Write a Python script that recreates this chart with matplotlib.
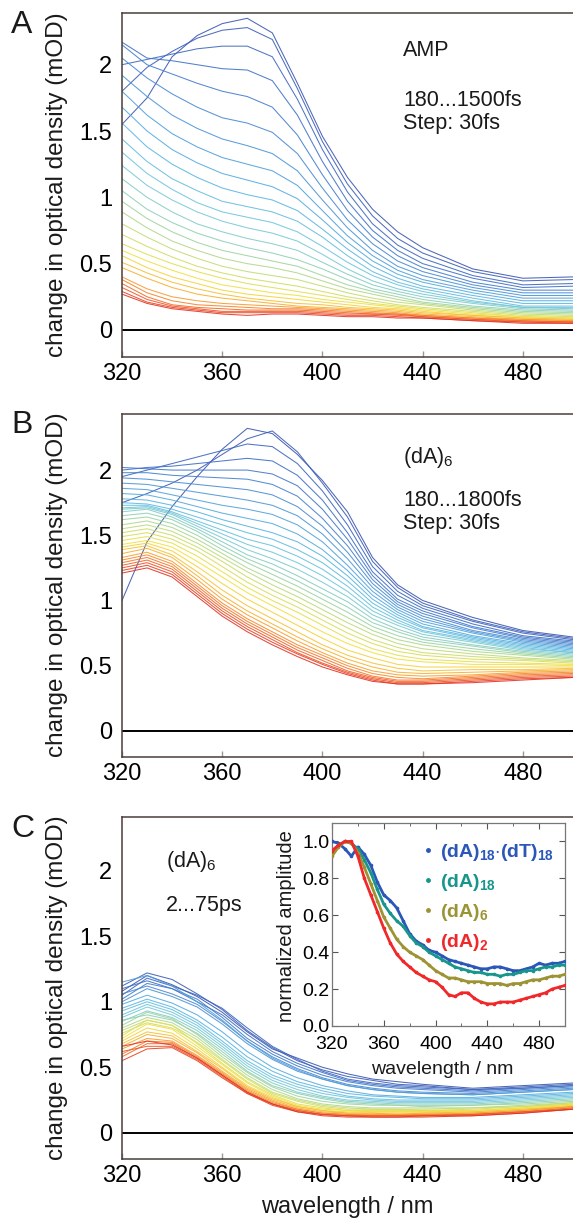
import numpy as np
import matplotlib
matplotlib.use("Agg")
import matplotlib.pyplot as plt
from matplotlib.colors import LinearSegmentedColormap
from matplotlib.lines import Line2D
from matplotlib.ticker import MultipleLocator, FixedLocator

plt.rcParams['font.family'] = ['Liberation Sans', 'DejaVu Sans']
plt.rcParams['mathtext.fontset'] = 'custom'
plt.rcParams['mathtext.rm'] = 'Liberation Sans'
plt.rcParams['mathtext.it'] = 'Liberation Sans:italic'
plt.rcParams['mathtext.bf'] = 'Liberation Sans:bold'

# ---------------- data ----------------
wl = [320, 330, 340, 350, 360, 370, 380, 390, 400, 410, 420, 430, 440, 460, 480, 500]

# Panel A: AMP, 180...1500 fs (early -> late)
amp_curves = [
    [1.55, 1.75, 2.06, 2.22, 2.31, 2.35, 2.24, 1.86, 1.46, 1.15, 0.91, 0.74, 0.62, 0.46, 0.39, 0.40],
    [1.80, 1.98, 2.10, 2.20, 2.26, 2.28, 2.19, 1.82, 1.42, 1.10, 0.86, 0.69, 0.58, 0.44, 0.37, 0.38],
    [2.00, 2.04, 2.08, 2.12, 2.14, 2.14, 2.06, 1.74, 1.36, 1.04, 0.80, 0.64, 0.54, 0.41, 0.34, 0.35],
    [2.17, 2.05, 2.03, 2.00, 1.97, 1.96, 1.88, 1.62, 1.27, 0.97, 0.75, 0.60, 0.50, 0.39, 0.32, 0.33],
    [2.15, 2.00, 1.93, 1.86, 1.80, 1.76, 1.68, 1.47, 1.17, 0.90, 0.70, 0.56, 0.47, 0.36, 0.30, 0.30],
    [2.05, 1.90, 1.78, 1.68, 1.60, 1.56, 1.49, 1.33, 1.07, 0.83, 0.65, 0.52, 0.44, 0.34, 0.28, 0.28],
    [1.92, 1.76, 1.62, 1.52, 1.44, 1.39, 1.33, 1.20, 0.98, 0.77, 0.60, 0.48, 0.41, 0.32, 0.26, 0.26],
    [1.80, 1.62, 1.48, 1.38, 1.30, 1.25, 1.20, 1.09, 0.90, 0.71, 0.56, 0.45, 0.38, 0.30, 0.24, 0.24],
    [1.68, 1.50, 1.36, 1.26, 1.18, 1.13, 1.08, 0.99, 0.83, 0.66, 0.52, 0.42, 0.36, 0.28, 0.22, 0.22],
    [1.56, 1.38, 1.25, 1.15, 1.07, 1.02, 0.98, 0.90, 0.76, 0.61, 0.48, 0.39, 0.33, 0.26, 0.20, 0.20],
    [1.44, 1.27, 1.14, 1.05, 0.97, 0.93, 0.89, 0.82, 0.70, 0.56, 0.44, 0.36, 0.31, 0.24, 0.18, 0.18],
    [1.34, 1.18, 1.06, 0.96, 0.89, 0.85, 0.81, 0.74, 0.63, 0.51, 0.41, 0.34, 0.29, 0.22, 0.17, 0.17],
    [1.24, 1.09, 0.98, 0.89, 0.82, 0.77, 0.73, 0.67, 0.57, 0.46, 0.37, 0.31, 0.27, 0.21, 0.17, 0.16],
    [1.14, 1.00, 0.89, 0.80, 0.74, 0.69, 0.65, 0.60, 0.51, 0.42, 0.34, 0.29, 0.25, 0.20, 0.16, 0.15],
    [1.05, 0.91, 0.81, 0.73, 0.67, 0.62, 0.58, 0.53, 0.46, 0.38, 0.31, 0.27, 0.23, 0.18, 0.15, 0.14],
    [0.97, 0.84, 0.74, 0.66, 0.60, 0.56, 0.52, 0.48, 0.41, 0.34, 0.29, 0.25, 0.21, 0.17, 0.14, 0.13],
    [0.89, 0.77, 0.67, 0.60, 0.54, 0.50, 0.47, 0.43, 0.37, 0.31, 0.27, 0.23, 0.20, 0.16, 0.13, 0.12],
    [0.80, 0.70, 0.61, 0.54, 0.48, 0.44, 0.41, 0.38, 0.33, 0.28, 0.24, 0.21, 0.19, 0.15, 0.12, 0.11],
    [0.72, 0.63, 0.55, 0.48, 0.43, 0.39, 0.36, 0.33, 0.29, 0.25, 0.22, 0.19, 0.17, 0.14, 0.11, 0.10],
    [0.65, 0.57, 0.50, 0.44, 0.39, 0.35, 0.32, 0.29, 0.26, 0.23, 0.20, 0.18, 0.16, 0.13, 0.10, 0.09],
    [0.60, 0.52, 0.45, 0.39, 0.34, 0.31, 0.28, 0.26, 0.23, 0.21, 0.19, 0.17, 0.15, 0.12, 0.10, 0.09],
    [0.56, 0.47, 0.40, 0.35, 0.30, 0.27, 0.25, 0.23, 0.21, 0.19, 0.17, 0.16, 0.14, 0.11, 0.09, 0.08],
    [0.51, 0.43, 0.36, 0.31, 0.27, 0.24, 0.22, 0.20, 0.19, 0.17, 0.16, 0.15, 0.13, 0.11, 0.09, 0.08],
    [0.47, 0.39, 0.32, 0.27, 0.24, 0.22, 0.20, 0.18, 0.17, 0.16, 0.15, 0.14, 0.12, 0.10, 0.08, 0.07],
    [0.40, 0.31, 0.25, 0.22, 0.20, 0.19, 0.18, 0.17, 0.16, 0.15, 0.14, 0.13, 0.11, 0.09, 0.08, 0.07],
    [0.38, 0.28, 0.22, 0.19, 0.18, 0.17, 0.16, 0.16, 0.15, 0.14, 0.13, 0.12, 0.11, 0.09, 0.07, 0.06],
    [0.35, 0.25, 0.19, 0.17, 0.16, 0.15, 0.15, 0.15, 0.14, 0.13, 0.12, 0.12, 0.10, 0.08, 0.07, 0.06],
    [0.32, 0.23, 0.18, 0.16, 0.14, 0.14, 0.14, 0.14, 0.13, 0.12, 0.12, 0.11, 0.10, 0.08, 0.06, 0.06],
    [0.29, 0.21, 0.17, 0.15, 0.13, 0.13, 0.13, 0.13, 0.12, 0.11, 0.11, 0.10, 0.09, 0.07, 0.06, 0.05],
    [0.27, 0.20, 0.16, 0.14, 0.12, 0.11, 0.12, 0.12, 0.11, 0.10, 0.10, 0.09, 0.09, 0.07, 0.05, 0.05],
]

# Panel B: (dA)6, 180...1800 fs
da6_fs_curves = [
    [1.00, 1.45, 1.72, 1.95, 2.16, 2.32, 2.28, 2.12, 1.92, 1.68, 1.33, 1.12, 1.00, 0.87, 0.77, 0.72],
    [1.75, 1.82, 1.90, 2.00, 2.12, 2.24, 2.30, 2.14, 1.90, 1.64, 1.30, 1.10, 0.98, 0.85, 0.76, 0.71],
    [1.95, 2.00, 2.05, 2.10, 2.15, 2.20, 2.18, 2.05, 1.84, 1.58, 1.26, 1.07, 0.96, 0.84, 0.75, 0.70],
    [2.00, 2.02, 2.03, 2.05, 2.07, 2.09, 2.07, 1.96, 1.77, 1.52, 1.22, 1.04, 0.94, 0.82, 0.73, 0.69],
    [2.02, 2.01, 2.00, 2.00, 2.00, 2.00, 1.97, 1.88, 1.70, 1.47, 1.19, 1.01, 0.92, 0.80, 0.72, 0.68],
    [1.98, 1.98, 1.96, 1.95, 1.94, 1.93, 1.89, 1.80, 1.63, 1.42, 1.16, 0.99, 0.90, 0.79, 0.71, 0.67],
    [1.94, 1.93, 1.91, 1.89, 1.87, 1.85, 1.81, 1.72, 1.57, 1.37, 1.13, 0.97, 0.88, 0.77, 0.70, 0.66],
    [1.90, 1.89, 1.86, 1.83, 1.80, 1.77, 1.73, 1.65, 1.51, 1.32, 1.10, 0.95, 0.86, 0.76, 0.69, 0.65],
    [1.86, 1.85, 1.81, 1.77, 1.73, 1.70, 1.66, 1.58, 1.45, 1.27, 1.07, 0.93, 0.84, 0.75, 0.68, 0.64],
    [1.82, 1.81, 1.77, 1.72, 1.67, 1.63, 1.59, 1.51, 1.39, 1.23, 1.04, 0.91, 0.82, 0.73, 0.67, 0.63],
    [1.78, 1.77, 1.73, 1.68, 1.62, 1.57, 1.52, 1.45, 1.34, 1.19, 1.01, 0.89, 0.80, 0.72, 0.66, 0.62],
    [1.75, 1.74, 1.70, 1.64, 1.58, 1.52, 1.47, 1.39, 1.29, 1.15, 0.98, 0.87, 0.79, 0.71, 0.65, 0.61],
    [1.73, 1.73, 1.68, 1.61, 1.54, 1.47, 1.42, 1.34, 1.24, 1.11, 0.95, 0.85, 0.77, 0.70, 0.64, 0.60],
    [1.71, 1.72, 1.67, 1.59, 1.51, 1.43, 1.37, 1.29, 1.19, 1.07, 0.92, 0.83, 0.76, 0.69, 0.63, 0.60],
    [1.70, 1.71, 1.66, 1.57, 1.48, 1.39, 1.32, 1.24, 1.14, 1.03, 0.89, 0.81, 0.74, 0.68, 0.62, 0.59],
    [1.68, 1.70, 1.64, 1.55, 1.45, 1.35, 1.28, 1.19, 1.09, 0.99, 0.86, 0.78, 0.72, 0.66, 0.61, 0.58],
    [1.65, 1.67, 1.62, 1.53, 1.42, 1.32, 1.24, 1.15, 1.05, 0.95, 0.83, 0.76, 0.70, 0.65, 0.60, 0.57],
    [1.62, 1.64, 1.59, 1.50, 1.39, 1.29, 1.20, 1.11, 1.01, 0.91, 0.80, 0.73, 0.68, 0.63, 0.59, 0.56],
    [1.58, 1.61, 1.56, 1.47, 1.36, 1.25, 1.16, 1.07, 0.97, 0.87, 0.77, 0.70, 0.66, 0.61, 0.58, 0.55],
    [1.55, 1.58, 1.53, 1.44, 1.33, 1.22, 1.12, 1.03, 0.93, 0.83, 0.74, 0.67, 0.63, 0.59, 0.56, 0.54],
    [1.52, 1.55, 1.50, 1.41, 1.30, 1.18, 1.08, 0.99, 0.89, 0.79, 0.70, 0.64, 0.60, 0.57, 0.55, 0.53],
    [1.49, 1.52, 1.47, 1.38, 1.26, 1.14, 1.04, 0.95, 0.85, 0.75, 0.67, 0.61, 0.58, 0.55, 0.54, 0.52],
    [1.46, 1.49, 1.44, 1.34, 1.22, 1.10, 1.00, 0.91, 0.81, 0.71, 0.63, 0.58, 0.55, 0.53, 0.52, 0.51],
    [1.43, 1.46, 1.41, 1.30, 1.18, 1.06, 0.96, 0.86, 0.76, 0.67, 0.60, 0.55, 0.53, 0.51, 0.51, 0.50],
    [1.41, 1.44, 1.38, 1.26, 1.13, 1.01, 0.91, 0.81, 0.71, 0.62, 0.56, 0.51, 0.49, 0.49, 0.49, 0.49],
    [1.39, 1.42, 1.35, 1.22, 1.08, 0.96, 0.86, 0.76, 0.66, 0.58, 0.52, 0.48, 0.46, 0.47, 0.47, 0.48],
    [1.36, 1.40, 1.33, 1.19, 1.04, 0.92, 0.82, 0.72, 0.63, 0.55, 0.49, 0.45, 0.44, 0.45, 0.46, 0.47],
    [1.33, 1.37, 1.30, 1.16, 1.01, 0.89, 0.79, 0.69, 0.60, 0.52, 0.46, 0.43, 0.42, 0.43, 0.45, 0.46],
    [1.31, 1.35, 1.28, 1.13, 0.98, 0.86, 0.76, 0.66, 0.58, 0.50, 0.44, 0.41, 0.40, 0.42, 0.44, 0.45],
    [1.29, 1.33, 1.26, 1.11, 0.96, 0.84, 0.74, 0.64, 0.56, 0.48, 0.42, 0.39, 0.39, 0.41, 0.43, 0.44],
    [1.27, 1.31, 1.24, 1.09, 0.94, 0.82, 0.72, 0.62, 0.54, 0.46, 0.41, 0.38, 0.38, 0.40, 0.42, 0.43],
    [1.25, 1.29, 1.22, 1.07, 0.92, 0.80, 0.70, 0.60, 0.52, 0.45, 0.40, 0.37, 0.37, 0.39, 0.41, 0.42],
    [1.23, 1.27, 1.20, 1.05, 0.90, 0.78, 0.68, 0.59, 0.51, 0.44, 0.39, 0.36, 0.36, 0.38, 0.40, 0.41],
    [1.21, 1.25, 1.18, 1.03, 0.88, 0.76, 0.66, 0.57, 0.49, 0.43, 0.38, 0.36, 0.36, 0.37, 0.39, 0.41],
]

# Panel C: (dA)6, 2...75 ps
da6_ps_curves = [
    [1.08, 1.20, 1.13, 1.04, 0.92, 0.77, 0.64, 0.57, 0.50, 0.45, 0.41, 0.39, 0.37, 0.34, 0.36, 0.38],
    [1.12, 1.22, 1.17, 1.06, 0.94, 0.78, 0.65, 0.55, 0.48, 0.43, 0.40, 0.37, 0.36, 0.33, 0.35, 0.37],
    [1.05, 1.18, 1.12, 1.05, 0.95, 0.80, 0.66, 0.56, 0.47, 0.41, 0.38, 0.36, 0.35, 0.33, 0.34, 0.36],
    [1.10, 1.16, 1.10, 1.00, 0.90, 0.75, 0.62, 0.53, 0.46, 0.40, 0.37, 0.35, 0.34, 0.32, 0.34, 0.36],
    [1.02, 1.14, 1.10, 1.02, 0.88, 0.72, 0.60, 0.51, 0.44, 0.39, 0.36, 0.34, 0.33, 0.31, 0.33, 0.35],
    [1.06, 1.12, 1.06, 0.98, 0.85, 0.70, 0.58, 0.49, 0.42, 0.37, 0.34, 0.32, 0.31, 0.30, 0.32, 0.34],
    [1.00, 1.10, 1.04, 0.96, 0.83, 0.68, 0.56, 0.47, 0.41, 0.36, 0.33, 0.31, 0.30, 0.29, 0.31, 0.33],
    [1.15, 1.20, 1.12, 1.00, 0.86, 0.70, 0.57, 0.48, 0.41, 0.36, 0.33, 0.31, 0.30, 0.29, 0.31, 0.33],
    [0.98, 1.05, 0.99, 0.90, 0.77, 0.62, 0.50, 0.42, 0.36, 0.32, 0.29, 0.28, 0.27, 0.27, 0.29, 0.31],
    [0.95, 1.02, 0.96, 0.86, 0.73, 0.58, 0.47, 0.39, 0.34, 0.30, 0.28, 0.27, 0.26, 0.26, 0.28, 0.30],
    [0.93, 1.00, 0.94, 0.84, 0.70, 0.55, 0.44, 0.37, 0.32, 0.28, 0.26, 0.25, 0.25, 0.25, 0.27, 0.29],
    [0.90, 0.98, 0.92, 0.82, 0.68, 0.53, 0.42, 0.35, 0.30, 0.27, 0.25, 0.24, 0.24, 0.24, 0.26, 0.28],
    [0.88, 0.96, 0.90, 0.80, 0.66, 0.51, 0.40, 0.33, 0.28, 0.25, 0.24, 0.23, 0.23, 0.23, 0.25, 0.27],
    [0.85, 0.93, 0.88, 0.78, 0.64, 0.49, 0.38, 0.31, 0.27, 0.24, 0.23, 0.22, 0.22, 0.22, 0.24, 0.26],
    [0.86, 0.90, 0.86, 0.76, 0.62, 0.47, 0.36, 0.30, 0.26, 0.23, 0.22, 0.21, 0.21, 0.21, 0.23, 0.25],
    [0.82, 0.92, 0.87, 0.75, 0.60, 0.46, 0.35, 0.28, 0.24, 0.22, 0.21, 0.21, 0.20, 0.21, 0.22, 0.24],
    [0.80, 0.88, 0.84, 0.73, 0.58, 0.44, 0.33, 0.26, 0.22, 0.20, 0.19, 0.19, 0.19, 0.19, 0.21, 0.23],
    [0.78, 0.86, 0.82, 0.71, 0.56, 0.42, 0.31, 0.25, 0.21, 0.19, 0.18, 0.18, 0.18, 0.19, 0.20, 0.23],
    [0.76, 0.84, 0.80, 0.69, 0.55, 0.41, 0.30, 0.24, 0.20, 0.18, 0.18, 0.18, 0.17, 0.18, 0.20, 0.22],
    [0.74, 0.86, 0.82, 0.68, 0.53, 0.39, 0.29, 0.22, 0.19, 0.17, 0.17, 0.17, 0.17, 0.17, 0.19, 0.22],
    [0.72, 0.83, 0.79, 0.66, 0.52, 0.38, 0.28, 0.21, 0.18, 0.17, 0.16, 0.16, 0.16, 0.17, 0.19, 0.21],
    [0.70, 0.80, 0.76, 0.64, 0.50, 0.36, 0.27, 0.20, 0.17, 0.16, 0.16, 0.16, 0.16, 0.16, 0.18, 0.21],
    [0.68, 0.77, 0.74, 0.62, 0.49, 0.35, 0.26, 0.20, 0.17, 0.15, 0.15, 0.15, 0.15, 0.16, 0.18, 0.20],
    [0.66, 0.75, 0.72, 0.61, 0.47, 0.34, 0.25, 0.19, 0.16, 0.15, 0.15, 0.14, 0.15, 0.15, 0.17, 0.20],
    [0.64, 0.72, 0.70, 0.59, 0.46, 0.33, 0.24, 0.18, 0.15, 0.14, 0.14, 0.14, 0.14, 0.15, 0.17, 0.20],
    [0.60, 0.70, 0.69, 0.58, 0.45, 0.32, 0.23, 0.18, 0.15, 0.14, 0.13, 0.13, 0.14, 0.14, 0.16, 0.19],
    [0.58, 0.68, 0.68, 0.57, 0.44, 0.31, 0.22, 0.17, 0.14, 0.13, 0.13, 0.13, 0.13, 0.14, 0.16, 0.19],
    [0.62, 0.66, 0.66, 0.56, 0.43, 0.30, 0.22, 0.17, 0.14, 0.13, 0.13, 0.13, 0.13, 0.14, 0.16, 0.18],
    [0.55, 0.64, 0.65, 0.55, 0.42, 0.30, 0.21, 0.16, 0.14, 0.13, 0.12, 0.12, 0.13, 0.13, 0.15, 0.18],
    [0.66, 0.70, 0.67, 0.57, 0.44, 0.31, 0.22, 0.16, 0.13, 0.12, 0.12, 0.12, 0.12, 0.13, 0.15, 0.18],
]

# Inset: normalized amplitude
wl_inset = [320, 325, 330, 335, 340, 345, 350, 355, 360, 365, 370, 375, 380, 385, 390, 395, 400,
            405, 410, 415, 420, 425, 430, 435, 440, 445, 450, 455, 460, 465, 470, 475, 480, 485,
            490, 495, 500]
norm_dA18dT18 = [1.00, 0.99, 0.96, 0.92, 0.97, 0.93, 0.87, 0.78, 0.71, 0.68, 0.64, 0.57, 0.50, 0.46,
                 0.44, 0.41, 0.40, 0.38, 0.36, 0.35, 0.34, 0.33, 0.32, 0.31, 0.31, 0.32, 0.32, 0.31,
                 0.30, 0.30, 0.31, 0.32, 0.34, 0.33, 0.34, 0.34, 0.35]
norm_dA18 = [0.93, 0.98, 1.00, 0.99, 0.96, 0.90, 0.83, 0.74, 0.66, 0.61, 0.57, 0.54, 0.49, 0.45,
             0.43, 0.40, 0.38, 0.36, 0.34, 0.32, 0.31, 0.30, 0.29, 0.29, 0.28, 0.28, 0.27, 0.28,
             0.28, 0.29, 0.30, 0.30, 0.31, 0.32, 0.32, 0.33, 0.33]
norm_dA6 = [0.92, 0.97, 1.00, 0.99, 0.94, 0.86, 0.77, 0.68, 0.59, 0.53, 0.47, 0.43, 0.40, 0.38,
            0.36, 0.33, 0.30, 0.28, 0.26, 0.26, 0.25, 0.24, 0.24, 0.24, 0.23, 0.23, 0.23, 0.22,
            0.23, 0.23, 0.24, 0.25, 0.25, 0.26, 0.27, 0.27, 0.28]
norm_dA2 = [0.95, 0.98, 1.00, 1.00, 0.92, 0.80, 0.71, 0.62, 0.53, 0.45, 0.39, 0.35, 0.32, 0.29,
            0.27, 0.25, 0.24, 0.21, 0.17, 0.16, 0.18, 0.18, 0.15, 0.13, 0.12, 0.12, 0.13, 0.13,
            0.13, 0.14, 0.15, 0.16, 0.17, 0.18, 0.20, 0.21, 0.22]
inset_labels = [r"(dA)$_\mathbf{18}$$\cdot$(dT)$_\mathbf{18}$", r"(dA)$_\mathbf{18}$",
                r"(dA)$_\mathbf{6}$", r"(dA)$_\mathbf{2}$"]
inset_colors = ['#2b57b8', '#18968c', '#9c9434', '#f0282a']

x_ticks = [320, 360, 400, 440, 480]
y_ticks = [0, 0.5, 1, 1.5, 2]
y_ticklabels = ['0', '0.5', '1', '1.5', '2']

# ---------------- figure ----------------
W, H = 573, 1224
fig = plt.figure(figsize=(W / 100, H / 100), dpi=100)

def px_axes(l, t, r, b):
    return fig.add_axes([l / W, 1 - b / H, (r - l) / W, (b - t) / H])

cmap = LinearSegmentedColormap.from_list('rb', [
    '#3a56b0', '#3f6fc6', '#4a92d6', '#58b4e2', '#72c8dc', '#94d2ac',
    '#c8dc6a', '#f4e03c', '#f8ac30', '#f26a2a', '#e23424'])

spine_col = '#4a3e3a'

def style_main(ax, ylim):
    ax.set_xlim(320, 500)
    ax.set_ylim(*ylim)
    ax.spines['right'].set_visible(False)
    for s in ['left', 'top', 'bottom']:
        ax.spines[s].set_color(spine_col)
        ax.spines[s].set_linewidth(1.1)
    ax.xaxis.set_major_locator(FixedLocator(x_ticks))
    ax.set_yticks(y_ticks)
    ax.set_yticklabels(y_ticklabels)
    ax.tick_params(axis='x', direction='in', length=4, width=1, color='#999999',
                   labelsize=17, pad=4)
    ax.tick_params(axis='y', length=0, labelsize=17, pad=7)
    ax.axhline(0, color='black', lw=1.4, zorder=1)

def draw_curves(ax, curves):
    n = len(curves)
    for i, c in enumerate(curves):
        ax.plot(wl, c, color=cmap(i / (n - 1)), lw=0.75, alpha=0.9, zorder=2)

axA = px_axes(122, 13, 573, 357)
draw_curves(axA, amp_curves)
style_main(axA, (-0.204, 2.39))

axB = px_axes(122, 414, 573, 757)
draw_curves(axB, da6_fs_curves)
style_main(axB, (-0.2, 2.43))

axC = px_axes(122, 817, 573, 1159)
draw_curves(axC, da6_ps_curves)
style_main(axC, (-0.2, 2.41))

txt_kw = dict(fontsize=15.5, color='#1a1a1a', va='center', ha='left')
fig.text(403 / W, 1 - 51 / H, 'AMP', **txt_kw)
fig.text(403 / W, 1 - 100 / H, '180...1500fs', **txt_kw)
fig.text(403 / W, 1 - 123 / H, 'Step: 30fs', **txt_kw)
fig.text(403 / W, 1 - 457 / H, r'(dA)$_6$', **txt_kw)
fig.text(403 / W, 1 - 500 / H, '180...1800fs', **txt_kw)
fig.text(403 / W, 1 - 523 / H, 'Step: 30fs', **txt_kw)
fig.text(166 / W, 1 - 862 / H, r'(dA)$_6$', **txt_kw)
fig.text(166 / W, 1 - 905 / H, '2...75ps', **txt_kw)

for lab, yc in [('A', 25), ('B', 425), ('C', 829)]:
    fig.text(11 / W, 1 - yc / H, lab, fontsize=23, va='center', ha='left', color='#1a1a1a')

for yc in [185, 585, 988]:
    fig.text(57 / W, 1 - yc / H, 'change in optical density (mOD)', rotation=90,
             fontsize=17.5, va='center', ha='center', color='#1a1a1a')

fig.text(347 / W, 1 - 1207 / H, 'wavelength / nm', fontsize=17, va='center', ha='center',
         color='#1a1a1a')

# ---------------- inset ----------------
axI = px_axes(332, 823, 565, 1026)
axI.set_facecolor('white')
for data, col in zip([norm_dA18dT18, norm_dA18, norm_dA6, norm_dA2], inset_colors):
    axI.plot(wl_inset, data, color=col, lw=2.0, marker='o', ms=1.6, zorder=3)
axI.set_xlim(320, 500)
axI.set_ylim(0, 1.1)
axI.xaxis.set_major_locator(FixedLocator(x_ticks))
axI.xaxis.set_minor_locator(MultipleLocator(20))
axI.yaxis.set_major_locator(MultipleLocator(0.2))
axI.yaxis.set_major_formatter(plt.FormatStrFormatter('%.1f'))
axI.tick_params(which='both', direction='in', top=True, right=True, color='#555555',
                labelsize=14)
axI.tick_params(axis='x', pad=7)
axI.tick_params(axis='y', pad=2)
axI.tick_params(which='major', length=4)
axI.tick_params(which='minor', length=2.5)
for s in axI.spines.values():
    s.set_color('#777777')
    s.set_linewidth(0.9)
fig.text(287 / W, 1 - 926 / H, 'normalized amplitude', rotation=90, fontsize=14.5,
         va='center', ha='center', color='#1a1a1a')
fig.text(442 / W, 1 - 1069 / H, 'wavelength / nm', fontsize=14, va='center', ha='center',
         color='#1a1a1a')

handles = [Line2D([], [], ls='none', marker='o', ms=2.5, color=c) for c in inset_colors]
leg = axI.legend(handles, inset_labels, loc='upper left', bbox_to_anchor=(0.385, 0.905),
                 frameon=False, handlelength=0.6, handletextpad=0.35, labelspacing=0.45,
                 borderpad=0, borderaxespad=0,
                 prop={'weight': 'bold', 'size': 14}, labelcolor=inset_colors)

fig.savefig('out.png', dpi=100)
